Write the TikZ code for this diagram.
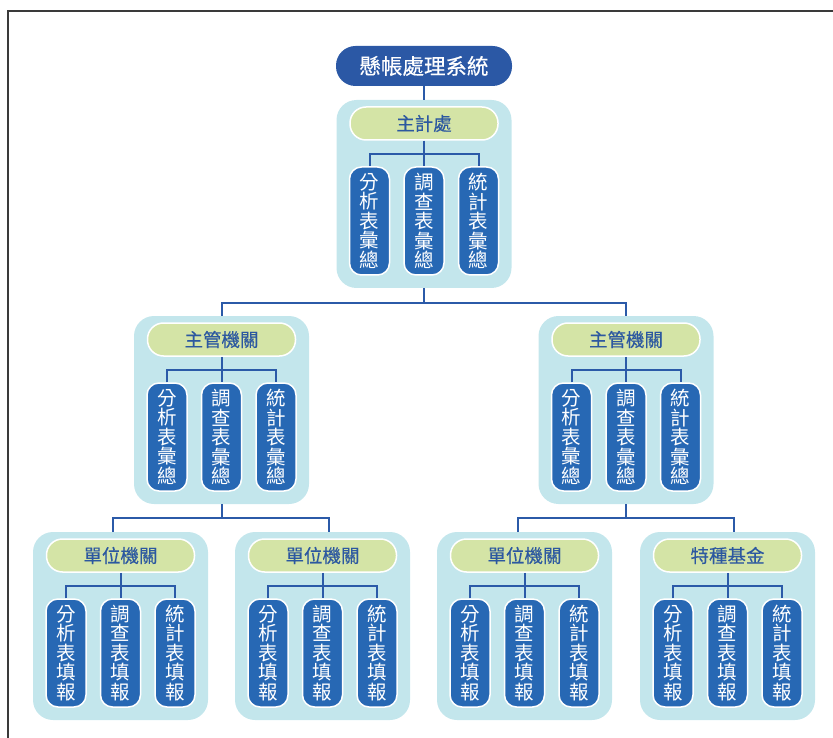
\documentclass[tikz,border=0pt]{standalone}
\usepackage{fontspec}
\newfontfamily\cjk{Noto Sans CJK TC}
\newfontfamily\cjkh{Noto Sans CJK TC}[FakeBold=0.4]
\definecolor{titleblue}{HTML}{2B58A5}
\definecolor{leafblue}{HTML}{2768B4}
\definecolor{panelcyan}{HTML}{C3E6EC}
\definecolor{pillgreen}{HTML}{D4E4A6}
\definecolor{headtext}{HTML}{2C58A0}
\definecolor{connblue}{HTML}{2B5AA8}
\definecolor{framegray}{HTML}{3A3A3A}
\tikzset{
  panelbox/.style={fill=panelcyan, draw=none, rounded corners=20pt, minimum width=175pt, minimum height=188pt, inner sep=0pt},
  headpill/.style={fill=pillgreen, draw=white, line width=1.5pt, rounded corners=16pt, minimum width=148pt, minimum height=33pt, inner sep=0pt, text=headtext, font=\cjkh\fontsize{18.5}{20}\selectfont},
  leafbox/.style={fill=leafblue, draw=white, line width=1.5pt, rounded corners=12pt, minimum width=40pt, minimum height=108pt, inner sep=0pt, text=white, align=center, font=\cjk\fontsize{19.5}{19.5}\selectfont},
  titlepill/.style={fill=titleblue, draw=none, rounded corners=19.5pt, minimum width=176pt, minimum height=40pt, inner sep=0pt, text=white, font=\cjkh\fontsize{21.5}{24}\selectfont},
  conn/.style={draw=connblue, line width=2pt},
  framestyle/.style={draw=framegray, line width=1.5pt}
}
\newcommand\orgpanel[6]{%
  \node[panelbox] (#1) at ({#2+87.5},{#3+94}) {};
  \coordinate (#1j) at ({#2+87.5},{#3+54});
  \node[headpill] (#1h) at ({#2+87.5},{#3+23.5}) {#4};
  \node[leafbox] (#1a) at ({#2+33},{#3+121}) {分\\析\\表\\#5\\#6};
  \node[leafbox] (#1b) at ({#2+87.5},{#3+121}) {調\\查\\表\\#5\\#6};
  \node[leafbox] (#1c) at ({#2+142},{#3+121}) {統\\計\\表\\#5\\#6};
  \draw[conn] (#1h.south) -- (#1j);
  \draw[conn] (#1a.north) |- (#1j) -| (#1c.north);
  \draw[conn] (#1j) -- (#1b.north);
}
\begin{document}
\begin{tikzpicture}[x=1pt,y=-1pt]
\useasboundingbox (0,0) rectangle (833,738);
\coordinate (fbl) at (8,738);
\coordinate (ftl) at (8,11);
\coordinate (ftr) at (833,11);
\draw[framestyle] (fbl) -- (ftl) -- (ftr);

\node[titlepill] (root) at (424,66) {懸帳處理系統};

\orgpanel{T}{336.5}{100}{主計處}{彙}{總}
\orgpanel{L}{134}{316}{主管機關}{彙}{總}
\orgpanel{R}{538.5}{316}{主管機關}{彙}{總}
\orgpanel{P}{33}{532}{單位機關}{填}{報}
\orgpanel{Q}{235}{532}{單位機關}{填}{報}
\orgpanel{S}{437}{532}{單位機關}{填}{報}
\orgpanel{U}{640}{532}{特種基金}{填}{報}

\draw[conn] (root.south) -- (T.north);

\coordinate (j1) at (424,302.5);
\draw[conn] (T.south) -- (j1);
\draw[conn] (L.north) |- (j1) -| (R.north);

\coordinate (j2) at (221.5,518);
\coordinate (p2) at (113,532);
\coordinate (q2) at (329,532);
\draw[conn] (L.south) -- (j2);
\draw[conn] (p2) |- (j2) -| (q2);

\coordinate (j3) at (626,518);
\coordinate (s3) at (518,532);
\coordinate (u3) at (734,532);
\draw[conn] (R.south) -- (j3);
\draw[conn] (s3) |- (j3) -| (u3);
\end{tikzpicture}
\end{document}
